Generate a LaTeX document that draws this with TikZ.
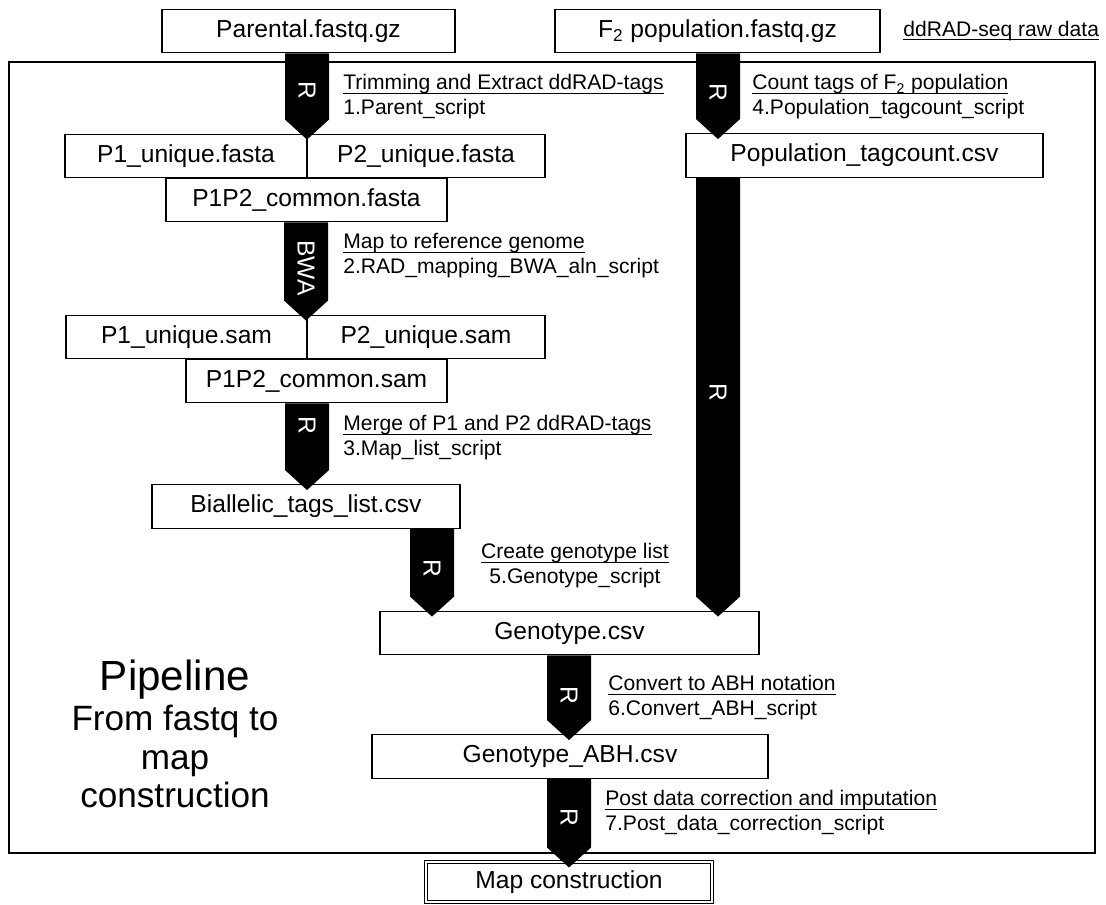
\documentclass[tikz,border=0pt]{standalone}
\usepackage{fontspec}
\setmainfont{Liberation Sans}
\usetikzlibrary{calc}

\newcommand{\uline}[1]{\setbox0\hbox{#1}\rlap{\rule[-2pt]{\wd0}{0.55pt}}\box0}

% fat black arrow: from node, to node, x, label, label y
\newcommand{\fatarrow}[5]{%
    \fill ($(#3,0 |- #1.south)+(-22,0)$) -- ($(#3,0 |- #2.north)+(-22,-14)$)
        -- ($(#3,0 |- #2.north)+(0,6)$) -- ($(#3,0 |- #2.north)+(22,-14)$)
        -- ($(#3,0 |- #1.south)+(22,0)$) -- cycle;
    \node[tag] at (#3,#5) {#4};
}

\begin{document}
\begin{tikzpicture}[
    x=0.02cm, y=-0.02cm,
    box/.style={draw, line width=0.8pt, minimum height=0.87cm, inner sep=0pt, font=\fontsize{14}{16}\selectfont},
    note/.style={align=left, anchor=west, inner sep=0pt, font=\fontsize{12}{14.2}\selectfont},
    tag/.style={text=white, rotate=-90, inner sep=0pt, font=\fontsize{14}{14}\selectfont}
]
    \useasboundingbox (0,0) rectangle (1106,904);
    \draw[line width=0.8pt] (9,62) rectangle (1095,853);

    \node[box, minimum width=5.86cm] (parental) at (308.5,31) {Parental.fastq.gz};
    \node[box, minimum width=6.5cm] (f2) at (717.5,31) {F\textsubscript{2} population.fastq.gz};
    \node[note] (rawdata) at (903,31) {\uline{ddRAD-seq raw data}};
    \node[box, minimum width=4.84cm] (p1fasta) at (186,156) {P1\_unique.fasta};
    \node[box, minimum width=4.76cm] (p2fasta) at (426,156) {P2\_unique.fasta};
    \node[box, minimum width=5.62cm] (comfasta) at (306.5,200) {P1P2\_common.fasta};
    \node[box, minimum width=4.82cm] (p1sam) at (186.5,337) {P1\_unique.sam};
    \node[box, minimum width=4.76cm] (p2sam) at (426,337) {P2\_unique.sam};
    \node[box, minimum width=5.22cm] (comsam) at (316.5,381) {P1P2\_common.sam};
    \node[box, minimum width=6.16cm] (biallelic) at (306,506.5) {Biallelic\_tags\_list.csv};
    \node[box, minimum width=7.14cm] (popcsv) at (864.5,155.5) {Population\_tagcount.csv};
    \node[box, minimum width=7.58cm] (genocsv) at (569.5,633) {Genotype.csv};
    \node[box, minimum width=7.92cm] (abhcsv) at (570,756.5) {Genotype\_ABH.csv};
    \node[box, minimum width=5.72cm, minimum height=0.8cm, line width=0.6pt, double, double distance=1.3pt] (mapbox) at (569,882) {Map construction};

    \fatarrow{parental}{p1fasta}{307}{R}{90}
    \fatarrow{f2}{popcsv}{718}{R}{92}
    \fatarrow{comfasta}{p1sam}{306}{BWA}{268}
    \fatarrow{comsam}{biallelic}{307}{R}{425}
    \fatarrow{biallelic}{genocsv}{432}{R}{568}
    \fatarrow{popcsv}{genocsv}{718}{R}{392}
    \fatarrow{genocsv}{abhcsv}{569}{R}{695}
    \fatarrow{abhcsv}{mapbox}{569}{R}{817}

    \node[note] (step1) at (343,97) {\uline{Trimming and Extract ddRAD-tags}\\1.Parent\_script};
    \node[note] (step2) at (343,256) {\uline{Map to reference genome}\\2.RAD\_mapping\_BWA\_aln\_script};
    \node[note] (step3) at (343,438) {\uline{Merge of P1 and P2 ddRAD-tags}\\3.Map\_list\_script};
    \node[note] (step4) at (752,97) {\uline{Count tags of F\textsubscript{2} population}\\4.Population\_tagcount\_script};
    \node[note, align=center, anchor=center] (step5) at (575,566) {\uline{Create genotype list}\\5.Genotype\_script};
    \node[note] (step6) at (608,698) {\uline{Convert to ABH notation}\\6.Convert\_ABH\_script};
    \node[note] (step7) at (605,813) {\uline{Post data correction and imputation}\\7.Post\_data\_correction\_script};

    \node[align=center, inner sep=0pt, font=\fontsize{20}{22}\selectfont] (title) at (175,734)
        {{\fontsize{24}{26}\selectfont Pipeline}\\[1pt]From fastq to\\map\\construction};
\end{tikzpicture}
\end{document}
